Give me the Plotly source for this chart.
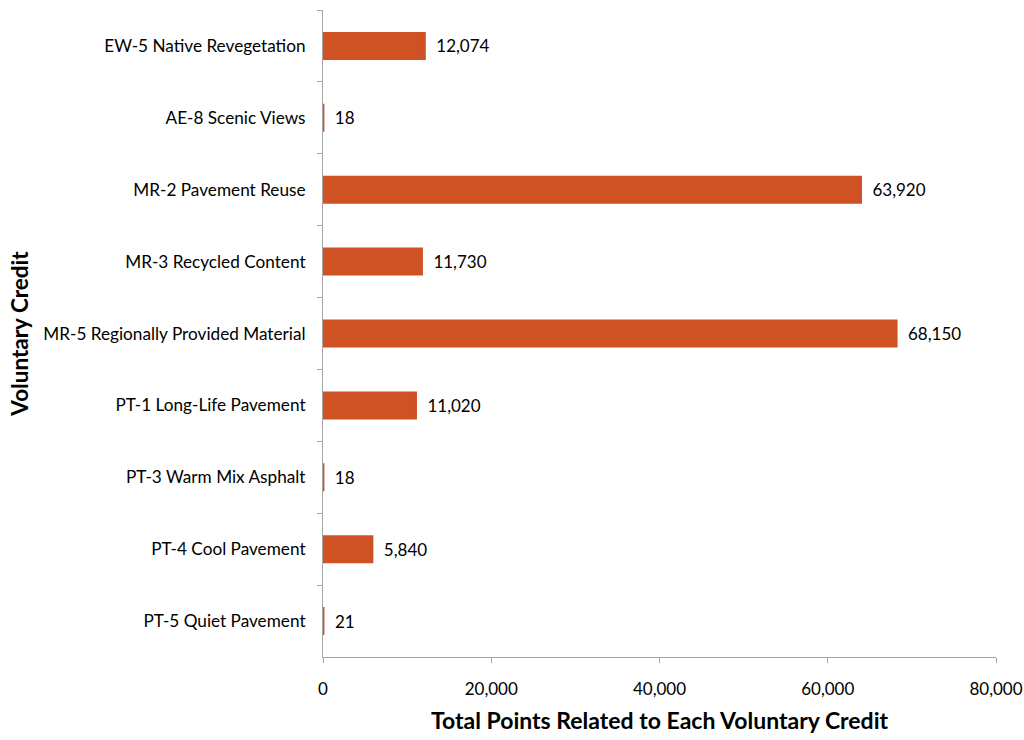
import plotly.graph_objects as go

credits = [
    "EW-5 Native Revegetation",
    "AE-8 Scenic Views",
    "MR-2 Pavement Reuse",
    "MR-3 Recycled Content",
    "MR-5 Regionally Provided Material",
    "PT-1 Long-Life Pavement",
    "PT-3 Warm Mix Asphalt",
    "PT-4 Cool Pavement",
    "PT-5 Quiet Pavement",
]
points = [12074, 18, 63920, 11730, 68150, 11020, 18, 5840, 21]
x_ticks = [0, 20000, 40000, 60000, 80000]

bar_color = "#CF5224"
axis_color = "#A6A6A6"
font_family = "Lato, 'Open Sans', sans-serif"

fig = go.Figure(
    go.Bar(
        x=points,
        y=credits,
        orientation="h",
        marker=dict(color=bar_color, line=dict(color=bar_color, width=2.5)),
        text=["  " + f"{v:,}" for v in points],
        textposition="outside",
        textfont=dict(size=17, color="#000000", family=font_family),
        cliponaxis=False,
    )
)

fig.update_layout(
    width=1024,
    height=740,
    margin=dict(l=323, r=28, t=10, b=83),
    paper_bgcolor="white",
    plot_bgcolor="white",
    bargap=0.645,
    showlegend=False,
    font=dict(family=font_family, size=17, color="#000000"),
)

fig.update_xaxes(
    range=[0, 80000],
    tickvals=x_ticks,
    ticktext=[f"{v:,}" for v in x_ticks],
    showgrid=False,
    zeroline=False,
    showline=True,
    linecolor=axis_color,
    linewidth=1,
    ticks="outside",
    ticklen=5,
    tickcolor=axis_color,
    ticklabelstandoff=12,
    ticklabeloverflow="allow",
    tickfont=dict(size=17),
    automargin=False,
    title=dict(
        text="<b>Total Points Related to Each Voluntary Credit</b>",
        font=dict(size=23),
        standoff=14,
    ),
)

fig.update_yaxes(
    type="category",
    categoryorder="array",
    categoryarray=credits,
    autorange="reversed",
    showgrid=False,
    zeroline=False,
    showline=True,
    linecolor=axis_color,
    linewidth=1,
    ticks="outside",
    tickson="boundaries",
    ticklen=5,
    tickcolor=axis_color,
    ticklabelstandoff=13,
    tickfont=dict(size=17.2),
    automargin=False,
    title=dict(text="<b>Voluntary Credit</b>", font=dict(size=22.5), standoff=8),
)

fig.write_html("out.html")
